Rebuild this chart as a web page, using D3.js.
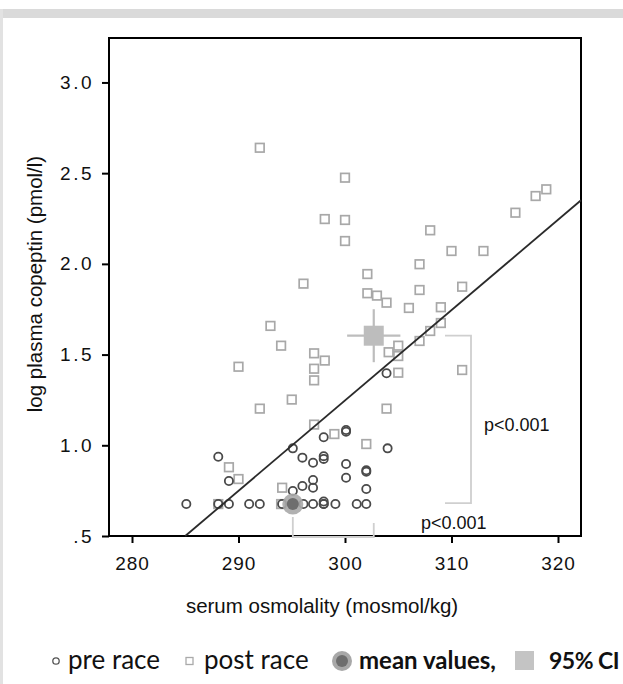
<!DOCTYPE html>
<html>
<head>
<meta charset="utf-8">
<script src="https://cdn.jsdelivr.net/npm/d3@7"></script>
<style>
  body { margin: 0; background: #fff; }
  svg { display: block; }
  .tick text { font-family: "Liberation Sans", Arial, sans-serif; font-size: 19px; fill: #111; }
</style>
</head>
<body>
<svg id="chart" width="623" height="684"></svg>
<script>
// pre race (circles)
const preX = [285.1, 288.1, 289.1, 291.0, 292.0, 294.1, 296.1, 297.0, 298.0, 298.0, 299.1, 301.1, 302.0,
  288.1, 289.1, 295.1, 298.0, 296.0, 297.0, 298.0, 298.0, 300.1, 300.1, 300.1, 300.1,
  302.0, 302.0, 302.0, 296.0, 297.0, 297.0, 295.1, 304.0, 303.9, 298.0];
const preY = [0.676, 0.676, 0.676, 0.676, 0.676, 0.676, 0.676, 0.676, 0.676, 0.676, 0.676, 0.676, 0.676,
  0.937, 0.803, 0.983, 1.044, 0.932, 0.904, 0.94, 0.925, 1.084, 1.075, 0.897, 0.821,
  0.854, 0.862, 0.759, 0.776, 0.809, 0.766, 0.748, 0.983, 1.397, 0.69];

// post race (squares)
const postX = [292.0, 300.0, 298.1, 300.0, 300.0, 302.1, 296.1, 302.1, 303.0, 303.9, 293.0,
  318.9, 317.9, 316.0, 308.0, 310.0, 313.0, 307.0, 307.0, 311.0, 306.0, 309.0, 309.0,
  308.0, 307.0, 305.0, 304.1, 305.0, 305.0, 311.0, 294.0, 290.0, 297.1, 298.1, 297.1,
  297.1, 295.0, 292.0, 297.1, 299.0, 303.9, 302.0, 289.1, 290.0, 294.1, 288.1, 294.0];
const postY = [2.64, 2.475, 2.247, 2.242, 2.126, 1.944, 1.891, 1.838, 1.825, 1.786, 1.658,
  2.411, 2.374, 2.282, 2.185, 2.071, 2.071, 1.998, 1.856, 1.874, 1.757, 1.761, 1.674,
  1.63, 1.575, 1.549, 1.513, 1.492, 1.40, 1.415, 1.549, 1.433, 1.507, 1.467, 1.422,
  1.358, 1.252, 1.202, 1.114, 1.062, 1.202, 1.007, 0.879, 0.814, 0.766, 0.676, 0.676];

// means and 95% CI
const meanPre = [295.1, 0.676];
const meanPost = [302.7, 1.604];
const ciPostX = [300.2, 305.2];
const ciPostY = [1.458, 1.75];

// regression line y = slope * x + intercept
const regSlope = 0.0498;
const regIntercept = -13.693;

const xTicks = [280, 290, 300, 310, 320];
const yTicks = [0.5, 1.0, 1.5, 2.0, 2.5, 3.0];
const yTickLabels = [".5", "1.0", "1.5", "2.0", "2.5", "3.0"];

const svg = d3.select("#chart");

// grey frame of the screenshot
svg.append("rect").attr("x", 0).attr("y", 9).attr("width", 623).attr("height", 9).attr("fill", "#dadada");
svg.append("rect").attr("x", 0).attr("y", 9).attr("width", 3).attr("height", 675).attr("fill", "#e2e2e2");

const x = d3.scaleLinear().domain([277.84, 322.16]).range([109, 581]);
const y = d3.scaleLinear().domain([0.5, 3.245]).range([536, 38]);

// axes
const xAxis = svg.append("g")
    .attr("transform", "translate(0,536)")
    .call(d3.axisBottom(x).tickValues(xTicks).tickSize(7).tickPadding(14).tickFormat(d3.format("d")));
xAxis.select(".domain").remove();
xAxis.selectAll(".tick line").attr("stroke", "#000").attr("stroke-width", 2);
xAxis.selectAll(".tick text").attr("letter-spacing", "1px");

const yAxis = svg.append("g")
    .attr("transform", "translate(109,0)")
    .call(d3.axisLeft(y).tickValues(yTicks).tickSize(7).tickPadding(8)
        .tickFormat((d, i) => yTickLabels[i]));
yAxis.select(".domain").remove();
yAxis.selectAll(".tick line").attr("stroke", "#000").attr("stroke-width", 2);
yAxis.selectAll(".tick text").attr("letter-spacing", "2.5px");

// plot box
svg.append("rect")
    .attr("x", x.range()[0]).attr("y", y.range()[1])
    .attr("width", x.range()[1] - x.range()[0])
    .attr("height", y.range()[0] - y.range()[1])
    .attr("fill", "none").attr("stroke", "#000").attr("stroke-width", 2);

// axis titles
svg.append("text")
    .attr("x", 322).attr("y", 613)
    .attr("text-anchor", "middle")
    .attr("font-family", "Liberation Sans, Arial, sans-serif")
    .attr("font-size", 20.5)
    .attr("fill", "#111")
    .text("serum osmolality (mosmol/kg)");

svg.append("text")
    .attr("transform", "translate(42,284) rotate(-90)")
    .attr("text-anchor", "middle")
    .attr("font-family", "Liberation Sans, Arial, sans-serif")
    .attr("font-size", 20.5)
    .attr("fill", "#111")
    .text("log plasma copeptin (pmol/l)");

// brackets for p-values
const bracketColor = "#cfcfcf";
svg.append("path")
    .attr("d", "M445," + y(meanPost[1]) + "H471V" + (y(meanPre[1]) - 1) + "H445")
    .attr("fill", "none").attr("stroke", bracketColor).attr("stroke-width", 1.8);
svg.append("path")
    .attr("d", "M" + x(meanPre[0]) + "," + (y(meanPre[1]) + 13) + "V537H" + x(meanPost[0]) + "V" + (y(meanPre[1]) + 19))
    .attr("fill", "none").attr("stroke", bracketColor).attr("stroke-width", 1.8);

// post race squares
const post = postX.map((d, i) => [d, postY[i]]);
svg.append("g")
    .selectAll("rect")
    .data(post)
    .enter().append("rect")
    .attr("x", d => x(d[0]) - 4.3)
    .attr("y", d => y(d[1]) - 4.3)
    .attr("width", 8.6).attr("height", 8.6)
    .attr("fill", "none").attr("stroke", "#a8a8a8").attr("stroke-width", 1.7);

// pre race circles
const pre = preX.map((d, i) => [d, preY[i]]);
svg.append("g")
    .selectAll("circle")
    .data(pre)
    .enter().append("circle")
    .attr("cx", d => x(d[0]))
    .attr("cy", d => y(d[1]))
    .attr("r", 4.1)
    .attr("fill", "none").attr("stroke", "#4a4a4a").attr("stroke-width", 1.8);

// regression line, clipped to plot
const lineX0 = (y.domain()[0] - regIntercept) / regSlope;
const lineX1 = x.domain()[1];
svg.append("line")
    .attr("x1", x(lineX0)).attr("y1", y(regSlope * lineX0 + regIntercept))
    .attr("x2", x(lineX1)).attr("y2", y(regSlope * lineX1 + regIntercept))
    .attr("stroke", "#2a2a2a").attr("stroke-width", 1.8);

// post race mean with 95% CI cross
const ciColor = "#bdbdbd";
svg.append("line")
    .attr("x1", x(ciPostX[0])).attr("x2", x(ciPostX[1]))
    .attr("y1", y(meanPost[1])).attr("y2", y(meanPost[1]))
    .attr("stroke", ciColor).attr("stroke-width", 2.2);
svg.append("line")
    .attr("x1", x(meanPost[0])).attr("x2", x(meanPost[0]))
    .attr("y1", y(ciPostY[0])).attr("y2", y(ciPostY[1]))
    .attr("stroke", ciColor).attr("stroke-width", 2.2);
svg.append("rect")
    .attr("x", x(meanPost[0]) - 10).attr("y", y(meanPost[1]) - 10)
    .attr("width", 20).attr("height", 20)
    .attr("fill", ciColor);

// pre race mean
svg.append("circle")
    .attr("cx", x(meanPre[0])).attr("cy", y(meanPre[1]))
    .attr("r", 10.5).attr("fill", "#a8a8a8").attr("opacity", 0.9);
svg.append("circle")
    .attr("cx", x(meanPre[0])).attr("cy", y(meanPre[1]))
    .attr("r", 6).attr("fill", "#6e6e6e");

// p-values
const pFont = "Liberation Sans, Arial, sans-serif";
svg.append("text").attr("x", 484).attr("y", 431)
    .attr("font-family", pFont).attr("font-size", 18).attr("fill", "#111")
    .text("p<0.001");
svg.append("text").attr("x", 421).attr("y", 529)
    .attr("font-family", pFont).attr("font-size", 18).attr("fill", "#111")
    .text("p<0.001");

// legend
const legendY = 661;
const lg = svg.append("g").attr("font-family", "Lato, 'Open Sans', sans-serif").attr("font-size", 26).attr("fill", "#111");
lg.append("circle").attr("cx", 56).attr("cy", legendY).attr("r", 3.2)
    .attr("fill", "none").attr("stroke", "#555").attr("stroke-width", 1.3);
lg.append("text").attr("x", 68).attr("y", legendY + 8).text("pre race");
lg.append("rect").attr("x", 186).attr("y", legendY - 3.5).attr("width", 7).attr("height", 7)
    .attr("fill", "none").attr("stroke", "#aaa").attr("stroke-width", 1.3);
lg.append("text").attr("x", 204).attr("y", legendY + 8).text("post race");
lg.append("circle").attr("cx", 342).attr("cy", legendY).attr("r", 10).attr("fill", "#a8a8a8");
lg.append("circle").attr("cx", 342).attr("cy", legendY).attr("r", 6).attr("fill", "#6e6e6e");
lg.append("text").attr("x", 359).attr("y", legendY + 8).attr("font-size", 24).attr("font-weight", "bold").text("mean values,");
lg.append("rect").attr("x", 515).attr("y", legendY - 10).attr("width", 19).attr("height", 19).attr("fill", "#c4c4c4");
lg.append("text").attr("x", 549).attr("y", legendY + 8).attr("font-size", 23).attr("letter-spacing", "-0.5px")
    .attr("font-weight", "bold").text("95% CI");
</script>
</body>
</html>
